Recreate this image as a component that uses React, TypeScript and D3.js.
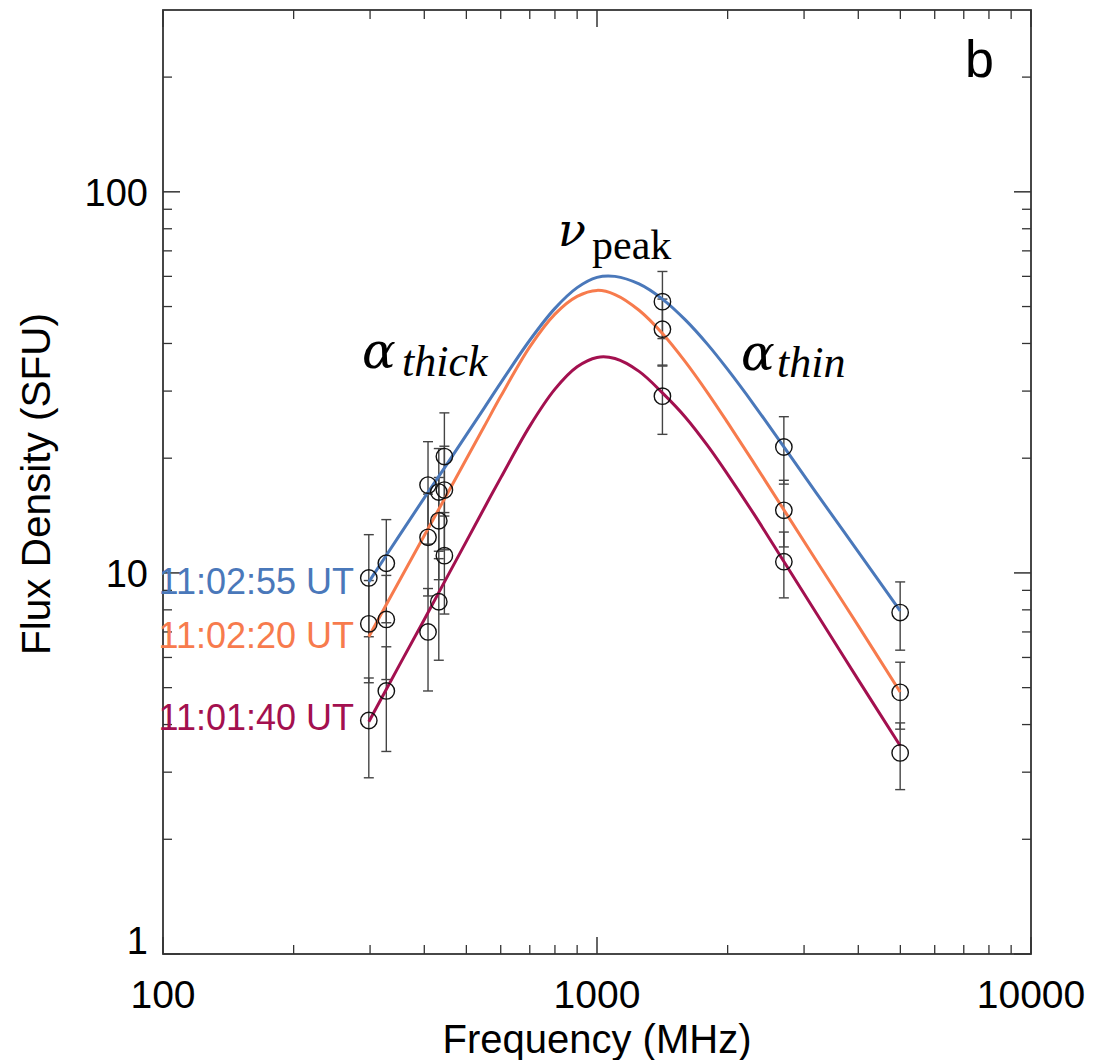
import React from "react";
import * as d3 from "d3";

// ---- data ----
const freqs = [298, 327, 408, 432, 445, 1415, 2695, 4995];

const times = ["11:02:55 UT", "11:02:20 UT", "11:01:40 UT"];
const colors = ["#4a78ba", "#f77b4d", "#a3104f"];

const flux_110255 = [9.7, 10.6, 17.0, 16.3, 20.2, 51.5, 21.4, 7.87];
const err_110255 = [2.9, 3.2, 5.1, 4.9, 6.1, 10.3, 4.3, 1.6];
const flux_110220 = [7.35, 7.55, 12.4, 13.7, 16.5, 43.6, 14.6, 4.86];
const err_110220 = [2.2, 2.3, 3.7, 4.1, 5.0, 8.7, 2.9, 0.97];
const flux_110140 = [4.1, 4.9, 7.0, 8.4, 11.1, 29.1, 10.7, 3.37];
const err_110140 = [1.2, 1.5, 2.1, 2.5, 3.3, 6.0, 2.1, 0.67];

// fitted spectra
const curveFreqs = [298, 350, 400, 450, 500, 550, 600, 700, 800, 900, 1000, 1100, 1250, 1415, 1600, 1800, 2000, 2300, 2695, 3200, 4000, 4995];
const fit_110255 = [9.47, 12.51, 15.74, 19.21, 23.02, 27.11, 31.52, 40.79, 49.45, 56.05, 59.64, 60.0, 57.31, 52.31, 46.05, 39.72, 34.19, 27.62, 21.41, 16.22, 11.35, 7.95];
const fit_110220 = [6.8, 9.51, 12.53, 15.99, 19.91, 24.25, 29.06, 39.19, 47.75, 53.15, 55.13, 53.76, 48.89, 42.49, 35.73, 29.64, 24.79, 19.42, 14.64, 10.78, 7.26, 4.87];
const fit_110140 = [4.07, 5.71, 7.55, 9.69, 12.1, 14.81, 17.76, 24.28, 30.35, 34.74, 36.77, 36.53, 33.8, 29.68, 25.59, 21.54, 18.14, 14.26, 10.71, 7.85, 5.24, 3.52];

const xTickValues = [100, 1000, 10000];
const xTickLabels = ["100", "1000", "10000"];
const yTickValues = [1, 10, 100];
const yTickLabels = ["1", "10", "100"];

const W = 1095;
const H = 1060;
const L = 163, R = 1031, T = 10, B = 954;

export default function App() {
  const x = d3.scaleLog().domain([100, 10000]).range([L, R]);
  const y = d3.scaleLog().domain([1, 300]).range([B, T]);

  const series = [
    { flux: flux_110255, err: err_110255, fit: fit_110255 },
    { flux: flux_110220, err: err_110220, fit: fit_110220 },
    { flux: flux_110140, err: err_110140, fit: fit_110140 },
  ];

  const line = d3
    .line<[number, number]>()
    .x((d) => x(d[0]))
    .y((d) => y(d[1]))
    .curve(d3.curveCatmullRom.alpha(0.5));

  const xMinor = x.ticks().filter((v) => !xTickValues.includes(v));
  const yMinor = y.ticks().filter((v) => !yTickValues.includes(v) && v < 300);

  const axisCol = "#333";
  const majLen = 17;
  const minLen = 9;

  const labelY = [594, 648, 730];

  return (
    <svg width={W} height={H} style={{ position: "absolute", left: 0, top: 0, background: "#fff" }}>
      {/* frame */}
      <rect x={L} y={T} width={R - L} height={B - T} fill="none" stroke={axisCol} strokeWidth={1.8} />

      {/* x ticks bottom and top */}
      {xTickValues.map((v) => (
        <g key={"xM" + v}>
          <line x1={x(v)} x2={x(v)} y1={B} y2={B - majLen} stroke={axisCol} strokeWidth={1.5} />
          <line x1={x(v)} x2={x(v)} y1={T} y2={T + majLen} stroke={axisCol} strokeWidth={1.5} />
        </g>
      ))}
      {xMinor.map((v) => (
        <g key={"xm" + v}>
          <line x1={x(v)} x2={x(v)} y1={B} y2={B - minLen} stroke={axisCol} strokeWidth={1.3} />
          <line x1={x(v)} x2={x(v)} y1={T} y2={T + minLen} stroke={axisCol} strokeWidth={1.3} />
        </g>
      ))}
      {/* y ticks left and right */}
      {yTickValues.map((v) => (
        <g key={"yM" + v}>
          <line x1={L} x2={L + majLen} y1={y(v)} y2={y(v)} stroke={axisCol} strokeWidth={1.5} />
          <line x1={R} x2={R - majLen} y1={y(v)} y2={y(v)} stroke={axisCol} strokeWidth={1.5} />
        </g>
      ))}
      {yMinor.map((v) => (
        <g key={"ym" + v}>
          <line x1={L} x2={L + minLen} y1={y(v)} y2={y(v)} stroke={axisCol} strokeWidth={1.3} />
          <line x1={R} x2={R - minLen} y1={y(v)} y2={y(v)} stroke={axisCol} strokeWidth={1.3} />
        </g>
      ))}

      {/* tick labels */}
      <g fontFamily="'Liberation Sans', Arial, sans-serif" fill="#000">
        {xTickValues.map((v, i) => (
          <text key={"xl" + v} x={x(v)} y={1008} textAnchor="middle" fontSize={39}>
            {xTickLabels[i]}
          </text>
        ))}
        {yTickValues.map((v, i) => (
          <text key={"yl" + v} x={148} y={v === 1 ? y(v) : y(v) + 14} textAnchor="end" fontSize={38}>
            {yTickLabels[i]}
          </text>
        ))}
      </g>

      {/* axis titles */}
      <text x={597} y={1053} textAnchor="middle" fontFamily="'Liberation Sans', Arial, sans-serif" fontSize={40}>
        Frequency (MHz)
      </text>
      <text
        transform="translate(50,484) rotate(-90)"
        textAnchor="middle"
        fontFamily="'Liberation Sans', Arial, sans-serif"
        fontSize={40.5}
      >
        Flux Density (SFU)
      </text>

      {/* panel letter */}
      <text x={965} y={77} fontFamily="'Liberation Sans', Arial, sans-serif" fontSize={52}>
        b
      </text>

      {/* error bars */}
      {series.map((s, si) =>
        freqs.map((f, i) => {
          const cx = x(f);
          const yt = y(s.flux[i] + s.err[i]);
          const yb = y(s.flux[i] - s.err[i]);
          return (
            <g key={"e" + si + "-" + i} stroke="#444" strokeWidth={1.4}>
              <line x1={cx} x2={cx} y1={yt} y2={yb} />
              <line x1={cx - 5} x2={cx + 5} y1={yt} y2={yt} />
              <line x1={cx - 5} x2={cx + 5} y1={yb} y2={yb} />
            </g>
          );
        })
      )}

      {/* fitted curves */}
      {series.map((s, si) => (
        <path
          key={"c" + si}
          d={line(curveFreqs.map((f, i) => [f, s.fit[i]] as [number, number])) || ""}
          fill="none"
          stroke={colors[si]}
          strokeWidth={3}
        />
      ))}

      {/* data circles */}
      {series.map((s, si) =>
        freqs.map((f, i) => (
          <circle
            key={"p" + si + "-" + i}
            cx={x(f)}
            cy={y(s.flux[i])}
            r={8.2}
            fill="none"
            stroke="#111"
            strokeWidth={1.4}
          />
        ))
      )}

      {/* time labels */}
      {times.map((t, i) => (
        <text
          key={t}
          x={354}
          y={labelY[i]}
          textAnchor="end"
          fontFamily="'Liberation Sans', Arial, sans-serif"
          fontSize={36}
          fill={colors[i]}
        >
          {t}
        </text>
      ))}

      {/* annotations */}
      <g fill="#000">
        <text x={362} y={368} fontSize={50} fontStyle="italic" fontFamily="'DejaVu Serif', serif">α</text>
        <text x={402} y={376} fontSize={44} fontStyle="italic" fontFamily="'Liberation Serif', serif">thick</text>
        <text x={741} y={370} fontSize={50} fontStyle="italic" fontFamily="'DejaVu Serif', serif">α</text>
        <text x={777} y={377} fontSize={44} fontStyle="italic" fontFamily="'Liberation Serif', serif">thin</text>
        <text x={558} y={246} fontSize={46} fontStyle="italic" fontFamily="'DejaVu Serif', serif">ν</text>
        <text x={592} y={259} fontSize={42} fontFamily="'Liberation Serif', serif">peak</text>
      </g>
    </svg>
  );
}
